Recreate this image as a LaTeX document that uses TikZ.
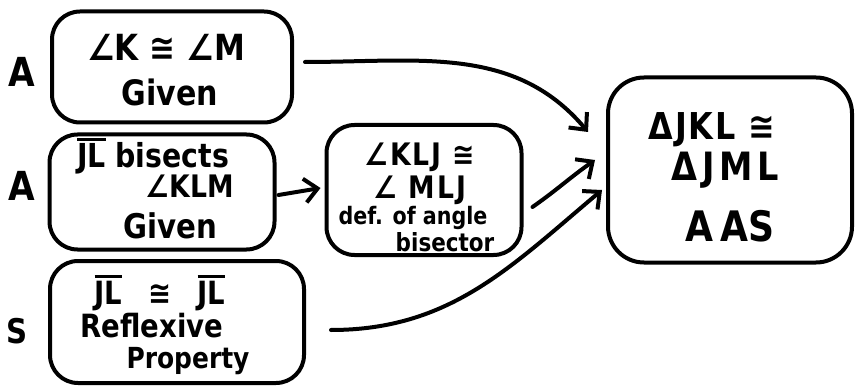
\documentclass[tikz,border=0pt]{standalone}
\usepackage{fontspec}
\setmainfont{DejaVu Sans}[FakeStretch=0.86]
\usetikzlibrary{arrows.meta}
% segment JL with a bar on top
\newcommand\segJL{\begingroup\setbox0\hbox{JL}\vbox{\hrule height 2.8pt width \wd0\kern 2.5pt\box0}\endgroup}
\tikzset{
  x=1pt, y=-1pt,
  stmt/.style={draw, line width=4pt, rounded corners=28pt, inner sep=0pt},
  txt/.style={inner sep=0pt, anchor=center},
  arr/.style={line width=4pt, line cap=round, -{Straight Barb[length=13pt,width=24pt,line width=4pt]}},
}
\newcommand\fs[1]{\fontsize{#1}{#1}\selectfont\bfseries}
\newcommand\wide[1]{\addfontfeature{LetterSpace=#1}}
\begin{document}
\begin{tikzpicture}
\useasboundingbox (0,0) rectangle (858,387);
% statement boxes
\node[stmt, minimum width=240pt, minimum height=111pt] (b1) at (172,67) {};
\node[stmt, minimum width=225pt, minimum height=115pt] (b2) at (162,192) {};
\node[stmt, minimum width=254pt, minimum height=122pt] (b3) at (177,322) {};
\node[stmt, minimum width=195pt, minimum height=130pt] (mid) at (424,190) {};
\node[stmt, minimum width=244pt, minimum height=185pt, rounded corners=36pt] (fin) at (730,170) {};
% reason letters
\node[txt, font=\fs{40}] (la) at (22,72) {A};
\node[txt, font=\fs{40}] (lb) at (22,186) {A};
\node[txt, font=\fs{34}] (lc) at (17,331) {S};
% box 1
\node[txt, font=\fs{36}] (t11) at (166,47) {∠K ≅ ∠M};
\node[txt, font=\fs{35}] (t12) at (170,92) {Given};
% box 2
\node[txt, font=\fs{33}] (t21) at (153,156) {\segJL{} bisects};
\node[txt, font=\fs{31}] (t22) at (190,186) {∠KLM};
\node[txt, font=\fs{34}] (t23) at (170,226) {Given};
% box 3
\node[txt, font=\fs{32}] (t31) at (160,293) {\segJL\hspace{26pt}≅\hspace{26pt}\segJL};
\node[txt, font=\fs{32}] (t32) at (152,326) {Reflexive};
\node[txt, font=\fs{29}] (t33) at (188,361) {Property};
% middle box
\node[txt, font=\fs{31}\wide{6}] (t41) at (420,157) {∠KLJ ≅};
\node[txt, font=\fs{31}\wide{6}] (t42) at (420,190) {∠ MLJ};
\node[txt, font=\fs{24}] (t43) at (413,218) {def. of angle};
\node[txt, font=\fs{25}] (t44) at (445,242) {bisector};
% conclusion box
\node[txt, font=\fs{37}\wide{5}] (t51) at (712,130) {ΔJKL ≅};
\node[txt, font=\fs{39}\wide{12}] (t52) at (725,170) {ΔJML};
\node[txt, font=\fs{42}] (t53) at (730,226) {A\,AS};
% connectors
\draw[arr] ([xshift=11pt,yshift=5pt]b1.east) to[out=0,in=130] ([xshift=-18pt,yshift=38pt]fin.west);
\draw[arr] ([xshift=2pt,yshift=-3pt]b2.east) -- ([xshift=-4pt,yshift=2pt]mid.west);
\draw[arr] ([xshift=9pt,yshift=-17pt]mid.east) to[out=35,in=215] ([xshift=-11pt,yshift=10pt]fin.west);
\draw[arr] ([xshift=25pt,yshift=-8pt]b3.east) to[out=0,in=220] ([xshift=-4pt,yshift=-20pt]fin.west);
\end{tikzpicture}
\end{document}
